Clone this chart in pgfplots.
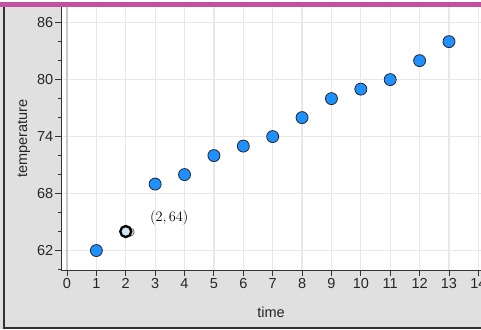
\documentclass[border=0pt]{standalone}
\usepackage{pgfplots}
\pgfplotsset{compat=1.18}
\usepackage{fontspec}
\setmainfont{Liberation Sans}
\definecolor{bggray}{HTML}{E0E0E0}
\definecolor{darkb}{HTML}{333333}
\definecolor{pinkbar}{HTML}{C4519B}
\definecolor{ptblue}{HTML}{1E90FF}
\definecolor{gridc}{HTML}{E8E8E8}
\definecolor{zerogrid}{HTML}{C8C8C8}
\definecolor{selfill}{HTML}{CFE6F7}
\definecolor{handc}{HTML}{F2EAB0}
\pgfplotstableread{
x y
1 62
3 69
4 70
5 72
6 73
7 74
8 76
9 78
10 79
11 80
12 82
13 84
}\temps
\begin{document}
\begin{tikzpicture}
\path[use as bounding box] (0pt,0pt) rectangle (481pt,329pt);
\clip (0pt,0pt) rectangle (481pt,329pt);
\fill[bggray] (0pt,0pt) rectangle (481pt,329pt);
\fill[white] (0pt,327pt) rectangle (481pt,329pt);
\fill[pinkbar] (0pt,322pt) rectangle (481pt,327pt);
\fill[darkb] (3pt,0pt) rectangle (5pt,322pt);
\fill[darkb] (3pt,0pt) rectangle (481pt,2.5pt);
\begin{axis}[
  at={(61pt,59pt)}, anchor=south west,
  scale only axis, width=420pt, height=263pt,
  xmin=-0.204, xmax=14.09, ymin=59.95, ymax=87.65,
  axis background/.style={fill=white},
  axis x line*=bottom, axis y line*=left,
  axis line style={darkb, line width=1pt},
  tick align=outside,
  xtick={0,...,14},
  ytick={62,68,74,80,86},
  minor ytick={60,64,66,70,72,76,78,82,84},
  major tick length=6pt, minor tick length=3pt,
  tick style={darkb, line width=0.9pt},
  grid=major, major grid style={gridc, line width=1.2pt},
  /pgf/number format/assume math mode=true,
  ticklabel style={font=\fontsize{14.5}{16}\selectfont, text=black!85},
  yticklabel style={inner sep=1.5pt},
  xticklabel style={inner sep=2.5pt},
  xlabel={time}, ylabel={temperature},
  label style={font=\fontsize{14.5}{16}\selectfont, text=black!85},
  xlabel style={at={([yshift=-42pt]axis description cs:0.5,0)}, anchor=center},
  ylabel style={at={([xshift=-37pt]axis description cs:0,0.5)}, anchor=center},
]
\draw[zerogrid, line width=1.2pt] (axis cs:0,59.95) -- (axis cs:0,87.65);
\addplot[only marks, mark=*, mark size=6pt,
  mark options={fill=ptblue, draw=black!85, line width=0.8pt}] table[x=x,y=y] {\temps};
\addplot[only marks, mark=*, mark size=5.5pt,
  mark options={fill=selfill, draw=black, line width=2.3pt}] coordinates {(2,64)};
\path[fill=handc, draw=black!70, line width=0.6pt] ([xshift=4.5pt,yshift=-0.5pt]axis cs:2,64) circle[radius=4pt];
\node[anchor=west, inner sep=0pt, font=\fontsize{14}{16}\selectfont] at (axis cs:2.82,65.42) {$(2,64)$};
\end{axis}
\end{tikzpicture}
\end{document}
